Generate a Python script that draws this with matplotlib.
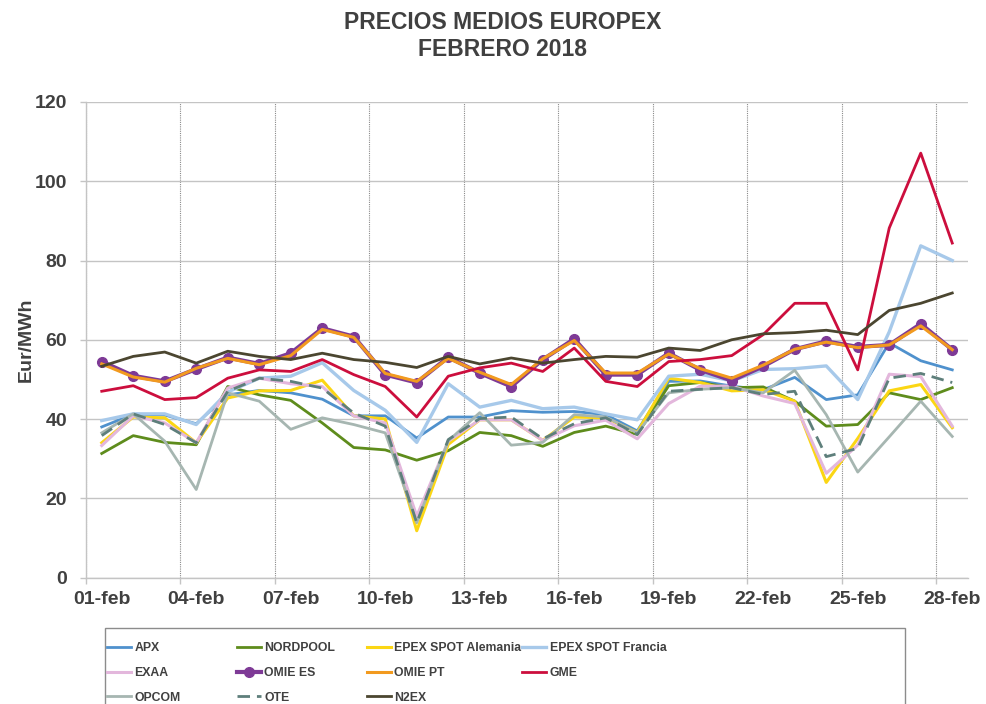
import numpy as np
import matplotlib.pyplot as plt
from matplotlib.patches import Rectangle

# dias de febrero 2018
dias = np.arange(1, 29)
etiquetas_dias = ['01-feb', '04-feb', '07-feb', '10-feb', '13-feb', '16-feb',
                  '19-feb', '22-feb', '25-feb', '28-feb']

apx = [38.0, 41.2, 41.0, 38.8, 46.1, 47.2, 46.6, 45.0, 40.8, 40.8, 35.2, 40.5, 40.5, 42.1,
       41.7, 41.9, 41.1, 37.0, 49.5, 49.6, 48.3, 47.4, 50.5, 44.9, 46.1, 59.2, 54.7, 52.4]
nordpool = [31.3, 35.8, 34.1, 33.5, 48.2, 46.1, 44.7, 39.0, 32.8, 32.2, 29.6, 32.0, 36.6, 35.8,
            33.1, 36.6, 38.2, 36.1, 48.4, 49.2, 47.9, 48.1, 44.5, 38.2, 38.6, 46.6, 44.9, 47.9]
epex_de = [34.0, 40.5, 40.3, 34.0, 45.3, 47.1, 47.2, 49.8, 40.8, 40.0, 11.8, 33.6, 39.8, 39.8,
           34.6, 40.5, 40.3, 36.6, 50.3, 49.2, 47.1, 47.4, 44.5, 24.0, 35.1, 47.1, 48.7, 37.8]
epex_fr = [39.6, 41.3, 41.3, 38.6, 46.8, 50.3, 50.8, 54.2, 47.2, 42.2, 34.1, 48.9, 43.0, 44.7,
           42.6, 43.0, 41.3, 39.8, 50.8, 51.3, 49.6, 52.5, 52.7, 53.4, 44.9, 62.0, 83.7, 80.0]
exaa = [33.3, 40.8, 39.0, 34.0, 47.8, 50.3, 48.9, 48.2, 40.8, 39.0, 15.5, 34.4, 39.8, 39.8,
        34.6, 38.3, 39.7, 35.0, 43.9, 48.3, 48.3, 45.8, 43.9, 26.3, 33.4, 51.3, 50.7, 38.2]
omie_es = [54.5, 50.9, 49.5, 52.6, 55.5, 53.9, 56.6, 62.9, 60.8, 51.2, 49.2, 55.6, 51.6, 48.2,
           55.0, 60.2, 51.2, 51.2, 56.6, 52.4, 49.7, 53.3, 57.6, 59.6, 58.2, 58.7, 64.0, 57.5]
omie_pt = [53.9, 50.6, 49.3, 52.8, 55.3, 53.7, 56.0, 62.6, 60.6, 51.5, 49.5, 55.3, 51.8, 48.7,
           55.2, 59.8, 51.6, 51.6, 56.4, 52.7, 50.3, 53.6, 57.6, 59.4, 58.0, 58.7, 63.5, 57.5]
gme = [47.0, 48.4, 44.9, 45.4, 50.3, 52.4, 52.0, 55.0, 51.2, 48.2, 40.5, 50.8, 52.9, 54.1,
       52.0, 57.9, 49.5, 48.2, 54.5, 55.0, 56.0, 61.3, 69.2, 69.2, 52.4, 88.2, 107.1, 84.4]
opcom = [36.5, 41.3, 34.4, 22.2, 46.6, 44.5, 37.4, 40.3, 38.6, 36.5, 13.8, 34.5, 41.6, 33.4,
         34.1, 41.1, 40.5, 36.5, 46.6, 47.5, 47.9, 46.6, 52.3, 41.1, 26.6, 35.5, 44.5, 35.6]
ote = [35.8, 41.3, 38.6, 34.0, 47.0, 50.3, 49.5, 47.8, 41.5, 38.2, 13.8, 34.8, 40.1, 40.5,
       35.0, 38.8, 40.3, 36.1, 47.0, 47.5, 47.9, 46.2, 47.0, 30.5, 32.6, 50.3, 51.5, 49.2]
n2ex = [53.3, 55.8, 56.9, 54.1, 57.1, 55.8, 55.0, 56.6, 55.0, 54.3, 53.0, 55.8, 53.9, 55.4,
        54.1, 55.0, 55.8, 55.6, 57.9, 57.3, 60.0, 61.5, 61.8, 62.4, 61.3, 67.4, 69.2, 71.8]

gris = '#404040'
fuente = ['Liberation Sans', 'DejaVu Sans']

fig = plt.figure(figsize=(9.86, 7.04), dpi=100)
ax = fig.add_axes([86 / 986, 1 - 577.5 / 704, 882 / 986, 475.5 / 704])

x = dias + 0.5
series = [
    ('APX', apx, dict(color='#4f91cd', lw=2.0)),
    ('NORDPOOL', nordpool, dict(color='#5e8c1c', lw=2.0)),
    ('EPEX SPOT Alemania', epex_de, dict(color='#fbd614', lw=2.2)),
    ('EPEX SPOT Francia', epex_fr, dict(color='#a7c9ea', lw=2.4)),
    ('EXAA', exaa, dict(color='#e3b7dc', lw=2.2)),
    ('OMIE ES', omie_es, dict(color='#7e3a96', lw=3.0, marker='o', markersize=7)),
    ('OMIE PT', omie_pt, dict(color='#f29a1f', lw=2.2)),
    ('GME', gme, dict(color='#cc0e3d', lw=2.0)),
    ('OPCOM', opcom, dict(color='#a6b6b1', lw=2.0)),
    ('OTE', ote, dict(color='#5e7f7b', lw=2.0, dashes=(4.5, 2.5))),
    ('N2EX', n2ex, dict(color='#4b4630', lw=2.0)),
]
lineas = {}
for i, (nombre, datos, estilo) in enumerate(series):
    l, = ax.plot(x, datos, label=nombre, zorder=3 + i, **estilo)
    lineas[nombre] = l

ax.set_xlim(1, 29)
ax.set_ylim(0, 120)
ax.set_yticks(np.arange(0, 121, 20))
ax.set_xticks(dias[::3])
ax.set_xticklabels([])
ax.set_xticks(dias[::3] + 0.5, minor=True)
ax.set_xticklabels(etiquetas_dias, minor=True)

ax.grid(axis='y', color='#c4c4c4', lw=1.0)
ax.grid(axis='x', which='major', color='#8a8a8a', lw=0.8, linestyle=(0, (1, 1)))
for s in ['top', 'right']:
    ax.spines[s].set_visible(False)
for s in ['left', 'bottom']:
    ax.spines[s].set_color('#c4c4c4')
    ax.spines[s].set_linewidth(1.0)

ax.tick_params(axis='both', which='major', length=4.5, color='#c4c4c4', width=1.0)
ax.tick_params(axis='x', which='minor', length=0, pad=10)
ax.tick_params(axis='y', pad=9)
for t in ax.get_yticklabels() + ax.get_xticklabels(minor=True):
    t.set_family(fuente)
    t.set_fontweight('bold')
    t.set_fontsize(14)
    t.set_color(gris)

fig.text(502.5 / 986, 1 - 29 / 704, 'PRECIOS MEDIOS EUROPEX', ha='center', va='baseline',
         family=fuente, fontweight='bold', fontsize=16.5, color=gris)
fig.text(502.5 / 986, 1 - 56 / 704, 'FEBRERO 2018', ha='center', va='baseline',
         family=fuente, fontweight='bold', fontsize=16.5, color=gris)
fig.text(26 / 986, 1 - 340 / 704, 'Eur/MWh', rotation=90, ha='center', va='center',
         family=fuente, fontweight='bold', fontsize=14, color=gris)

# leyenda: recuadro y cuatro columnas
fig.patches.append(Rectangle((105 / 986, 1 - 740 / 704), 800 / 986, 112 / 704,
                             transform=fig.transFigure, fill=False,
                             edgecolor='#8c8c8c', lw=1.0))
columnas = [['APX', 'EXAA', 'OPCOM'],
            ['NORDPOOL', 'OMIE ES', 'OTE'],
            ['EPEX SPOT Alemania', 'OMIE PT', 'N2EX'],
            ['EPEX SPOT Francia', 'GME']]
x_col = [107, 237, 367, 522]
for xc, nombres in zip(x_col, columnas):
    fig.legend([lineas[n] for n in nombres], nombres, loc='upper left',
               bbox_to_anchor=(xc / 986, 1 - 642 / 704), frameon=False,
               borderpad=0, borderaxespad=0, handlelength=2.0, handletextpad=0.25,
               labelspacing=1.05,
               prop=dict(family=fuente, weight='bold', size=8.8))
for leg in fig.legends:
    for t in leg.get_texts():
        t.set_color(gris)

fig.savefig('out.png', dpi=100)
